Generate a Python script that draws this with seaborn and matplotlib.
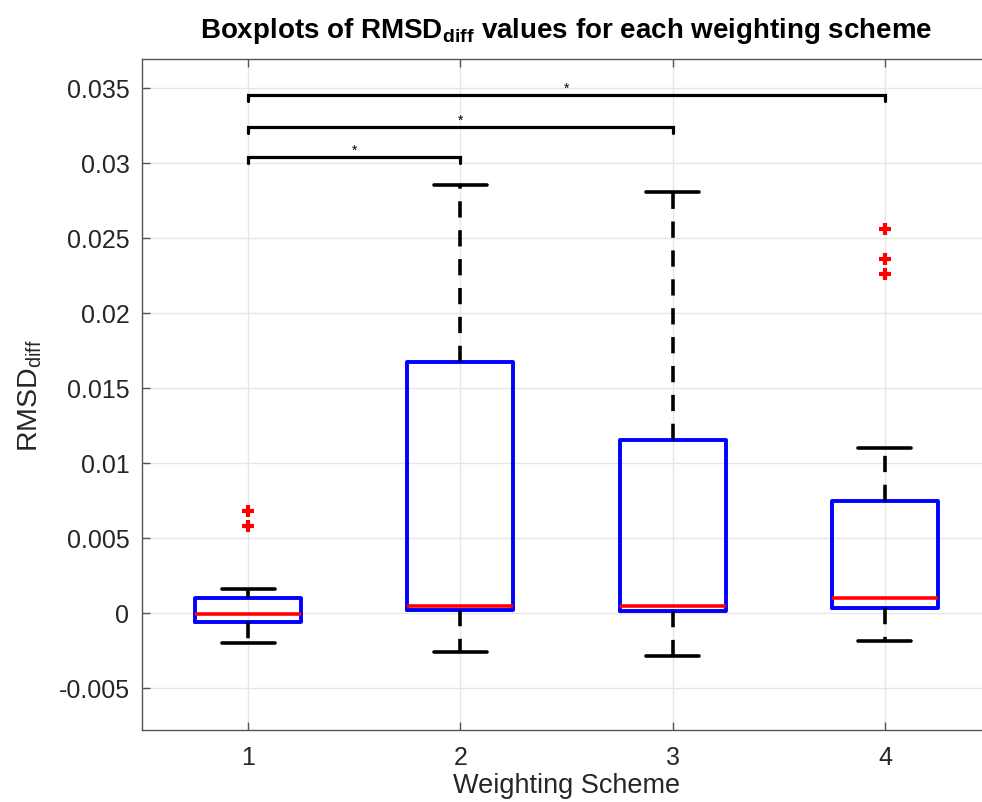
import matplotlib
matplotlib.use("Agg")
import matplotlib.pyplot as plt
import seaborn as sns

# Summary statistics per weighting scheme
schemes = ["1", "2", "3", "4"]
medians = [-0.0001, 0.00045, 0.00047, 0.0010]
q1 = [-0.0006, 0.0002, 0.0001, 0.00033]
q3 = [0.0010, 0.01673, 0.01149, 0.00747]
whisker_lo = [-0.0020, -0.0026, -0.00285, -0.00187]
whisker_hi = [0.0016, 0.02853, 0.02807, 0.0110]
outliers = [[0.0068, 0.0058], [], [], [0.0256, 0.0236, 0.0226]]

# Significance brackets: (group a, group b, height)
sig_pairs = [(1, 2, 0.0304), (1, 3, 0.0324), (1, 4, 0.0345)]
sig_labels = ["*", "*", "*"]

sns.set_style("whitegrid")
plt.rcParams["font.family"] = ["Liberation Sans", "DejaVu Sans"]
plt.rcParams["mathtext.fontset"] = "custom"
plt.rcParams["mathtext.rm"] = "Liberation Sans"
plt.rcParams["mathtext.bf"] = "Liberation Sans:bold"

fig = plt.figure(figsize=(9.82, 8.03), dpi=100)
ax = fig.add_axes([142 / 982, 1 - 731 / 803, 849 / 982, 671 / 803])

stats = []
for i, name in enumerate(schemes):
    stats.append(dict(label=name, med=medians[i], q1=q1[i], q3=q3[i],
                      whislo=whisker_lo[i], whishi=whisker_hi[i],
                      fliers=outliers[i]))

ax.bxp(stats, positions=[1, 2, 3, 4], widths=0.5, showfliers=True,
       boxprops=dict(color="#0000ff", linewidth=2.8),
       medianprops=dict(color="#ff0000", linewidth=2.6),
       whiskerprops=dict(color="black", linewidth=2.6, linestyle=(0, (4.5, 3.5))),
       capprops=dict(color="black", linewidth=2.6),
       capwidths=0.25,
       flierprops=dict(marker="+", markeredgecolor="#ff0000", markersize=9,
                       markeredgewidth=3, linestyle="none"),
       zorder=3)

leg = 0.0004
for (a, b, h), lab in zip(sig_pairs, sig_labels):
    ax.plot([a, a, b, b], [h - leg, h, h, h - leg], color="black",
            linewidth=2.3, solid_joinstyle="miter", zorder=4)
    ax.text((a + b) / 2, h, lab, ha="center", va="bottom",
            fontsize=10, color="black")

ax.set_xlim(0.5, 4.5)
ax.set_ylim(-0.0078, 0.0369)
ax.set_xticks([1, 2, 3, 4])
ax.set_xticklabels(schemes)
ax.set_yticks([-0.005, 0, 0.005, 0.01, 0.015, 0.02, 0.025, 0.03, 0.035])
ax.set_yticklabels(["-0.005", "0", "0.005", "0.01", "0.015", "0.02",
                    "0.025", "0.03", "0.035"])

ax.grid(True, color="#e6e6e6", linewidth=1.0)
ax.set_axisbelow(True)
for side in ["left", "bottom", "top", "right"]:
    ax.spines[side].set_visible(True)
    ax.spines[side].set_color("#555555")
    ax.spines[side].set_linewidth(1.0)
ax.tick_params(axis="both", direction="in", length=6, width=1.0,
               color="#555555", labelsize=18, labelcolor="#262626",
               top=True, right=True, left=True, bottom=True, pad=9)
ax.tick_params(axis="x", pad=11)

ax.set_xlabel("Weighting Scheme", fontsize=19.5, color="#262626", labelpad=2)
ax.set_ylabel(r"RMSD$_{\mathregular{diff}}$", fontsize=20.5, color="#262626",
              labelpad=10)
ax.set_title(r"Boxplots of RMSD$_{\mathbf{diff}}$ values for each weighting scheme",
             fontsize=20, fontweight="bold", color="black", pad=16)

fig.savefig("out.png", dpi=100)
